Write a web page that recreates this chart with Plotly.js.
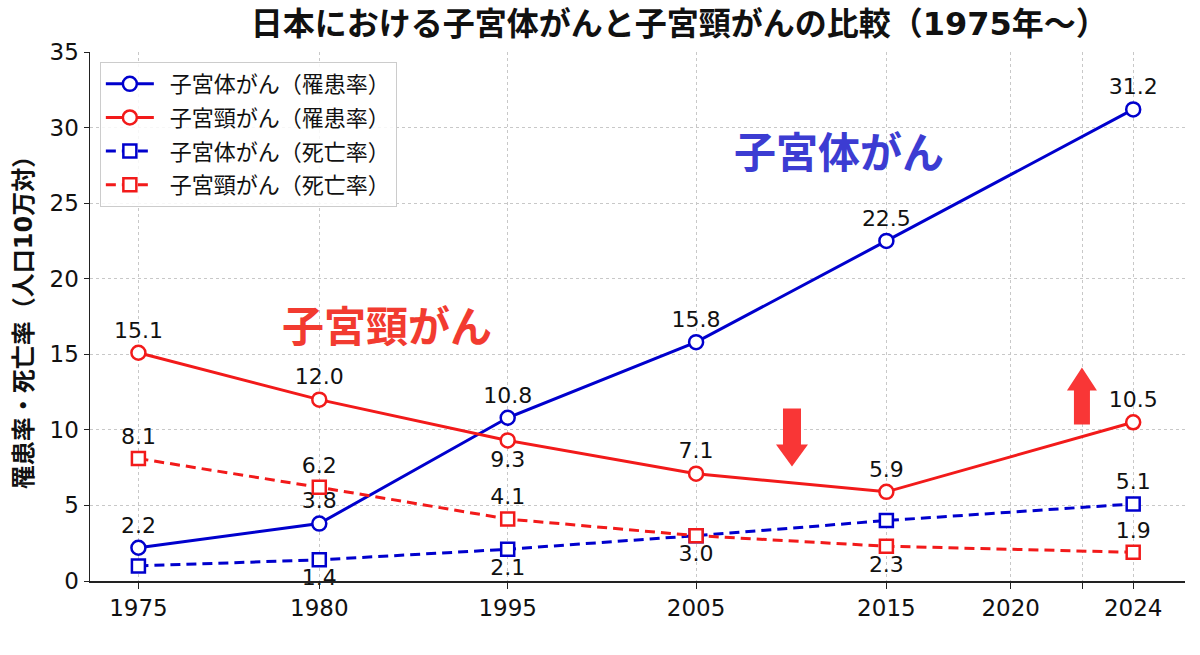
<!DOCTYPE html>
<html>
<head>
<meta charset="utf-8">
<script src="https://cdn.plot.ly/plotly-3.0.1.min.js"></script>
<style>
  html, body { margin: 0; padding: 0; background: #ffffff; }
  #chart { width: 1200px; height: 655px; }
</style>
</head>
<body>
<div id="chart"></div>
<script>
// Survey years and rates per 100,000 population
const years = [1975, 1980, 1995, 2005, 2015, 2024];
const corpusIncidence = [2.2, 3.8, 10.8, 15.8, 22.5, 31.2];
const cervixIncidence = [15.1, 12.0, 9.3, 7.1, 5.9, 10.5];
const corpusMortality = [1.0, 1.4, 2.1, 3.0, 4.0, 5.1];
const cervixMortality = [8.1, 6.2, 4.1, 3.0, 2.3, 1.9];

// Series names (legend)
const seriesNames = [
  '子宮体がん（罹患率）',
  '子宮頸がん（罹患率）',
  '子宮体がん（死亡率）',
  '子宮頸がん（死亡率）'
];

// Axis tick labels
const tickYears = ['1975', '1980', '1995', '2005', '2015', '2020', '', '2024'];

// Position of each year along the (non-uniform) time axis
const axisPos = {1975: 0, 1980: 0.96, 1995: 1.96, 2005: 2.96, 2015: 3.97, 2020: 4.63, 'mark': 5.01, 2024: 5.28};
const tickPos = [1975, 1980, 1995, 2005, 2015, 2020, 'mark', 2024].map(k => axisPos[k]);
const xs = years.map(y => axisPos[y]);

// Where each value label sits relative to its marker ('' = no label)
const corpusIncPos = ['top center', 'top center', 'top center', 'top center', 'top center', 'top center'];
const cervixIncPos = ['top center', 'top center', 'bottom center', 'top center', 'top center', 'top center'];
const corpusMorPos = ['', 'bottom center', 'bottom center', 'bottom center', '', 'top center'];
const cervixMorPos = ['top center', 'top center', 'top center', '', 'bottom center', 'top center'];

const BLUE = '#0000cd';
const RED = '#f21a1a';
const FONT = 'DejaVu Sans, "Noto Sans CJK JP", sans-serif';

function series(name, values, labelPos, color, dashed, group) {
  return {
    type: 'scatter',
    mode: 'lines+markers+text',
    name: '\u2002' + name,
    legendgroup: group,
    x: xs,
    y: values,
    text: values.map((v, i) => labelPos[i] ? v.toFixed(1) : ''),
    textposition: labelPos.map(p => p || 'top center'),
    textfont: {family: FONT, size: 22, color: '#111111'},
    line: {color: color, width: 3, dash: dashed ? '10px,6px' : 'solid'},
    marker: {
      symbol: dashed ? 'square' : 'circle',
      size: dashed ? 13 : 14,
      color: '#ffffff',
      line: {color: color, width: 2.5}
    },
    cliponaxis: false,
    hoverinfo: 'x+y+name'
  };
}

const traces = [
  series(seriesNames[0], corpusIncidence, corpusIncPos, BLUE, false, 'a'),
  series(seriesNames[1], cervixIncidence, cervixIncPos, RED, false, 'b'),
  series(seriesNames[2], corpusMortality, corpusMorPos, BLUE, true, 'c'),
  series(seriesNames[3], cervixMortality, cervixMorPos, RED, true, 'd')
];

// Block arrows (pixel-sized, anchored in data space)
const ARROW = '#f93636';
const downArrow = 'M -9 29 L 9 29 L 9 -7 L 16 -7 L 0 -29 L -16 -7 L -9 -7 Z';
const upArrow = 'M -8 -28 L 8 -28 L 8 6 L 15 6 L 0 29 L -15 6 L -8 6 Z';

const layout = {
  width: 1200,
  height: 655,
  paper_bgcolor: '#ffffff',
  plot_bgcolor: '#ffffff',
  font: {family: FONT, size: 20, color: '#111111'},
  margin: {l: 90, r: 15, t: 52, b: 74},
  title: {
    text: '<b>日本における子宮体がんと子宮頸がんの比較（1975年〜）</b>',
    font: {family: FONT, size: 32, color: '#111111'},
    x: 0.566, xref: 'container', xanchor: 'center',
    y: 0.964, yref: 'container', yanchor: 'middle'
  },
  xaxis: {
    range: [-0.257, 5.555],
    tickmode: 'array',
    tickvals: tickPos,
    ticktext: tickYears,
    tickfont: {family: FONT, size: 23, color: '#111111'},
    showline: true, linecolor: '#222222', linewidth: 1.5,
    ticks: 'outside', ticklen: 6, tickcolor: '#222222', tickwidth: 1,
    showgrid: true, gridcolor: '#c8c8c8', gridwidth: 1, griddash: '3px,3px',
    zeroline: false, fixedrange: true
  },
  yaxis: {
    range: [0, 35],
    tickmode: 'linear', tick0: 0, dtick: 5,
    tickfont: {family: FONT, size: 23, color: '#111111'},
    showline: true, linecolor: '#222222', linewidth: 1.5,
    ticks: 'outside', ticklen: 5, tickcolor: '#222222', tickwidth: 1,
    showgrid: true, gridcolor: '#c8c8c8', gridwidth: 1, griddash: '3px,3px',
    zeroline: false, fixedrange: true,
    title: {
      text: '<b>罹患率・死亡率（人口10万対）</b>',
      font: {family: FONT, size: 24, color: '#111111'},
      standoff: 10
    }
  },
  legend: {
    x: 0.009, y: 0.981, xanchor: 'left', yanchor: 'top',
    bgcolor: 'rgba(255,255,255,0.85)',
    bordercolor: '#cccccc', borderwidth: 1,
    font: {family: FONT, size: 22, color: '#111111'},
    itemwidth: 48,
    tracegroupgap: 2
  },
  annotations: [
    {
      text: '<b>子宮体がん</b>', x: 3.72, y: 28.3, xref: 'x', yref: 'y',
      showarrow: false, font: {family: FONT, size: 42, color: '#3c3cd2'}
    },
    {
      text: '<b>子宮頸がん</b>', x: 1.32, y: 16.8, xref: 'x', yref: 'y',
      showarrow: false, font: {family: FONT, size: 42, color: '#f23b30'}
    }
  ],
  shapes: [
    {
      type: 'path', xref: 'x', yref: 'y', xsizemode: 'pixel', ysizemode: 'pixel',
      xanchor: 3.469, yanchor: 9.5, path: downArrow,
      fillcolor: ARROW, line: {width: 0}
    },
    {
      type: 'path', xref: 'x', yref: 'y', xsizemode: 'pixel', ysizemode: 'pixel',
      xanchor: 5.008, yanchor: 12.2, path: upArrow,
      fillcolor: ARROW, line: {width: 0}
    }
  ],
  showlegend: true
};

Plotly.newPlot('chart', traces, layout, {displayModeBar: false, staticPlot: true});
</script>
</body>
</html>
